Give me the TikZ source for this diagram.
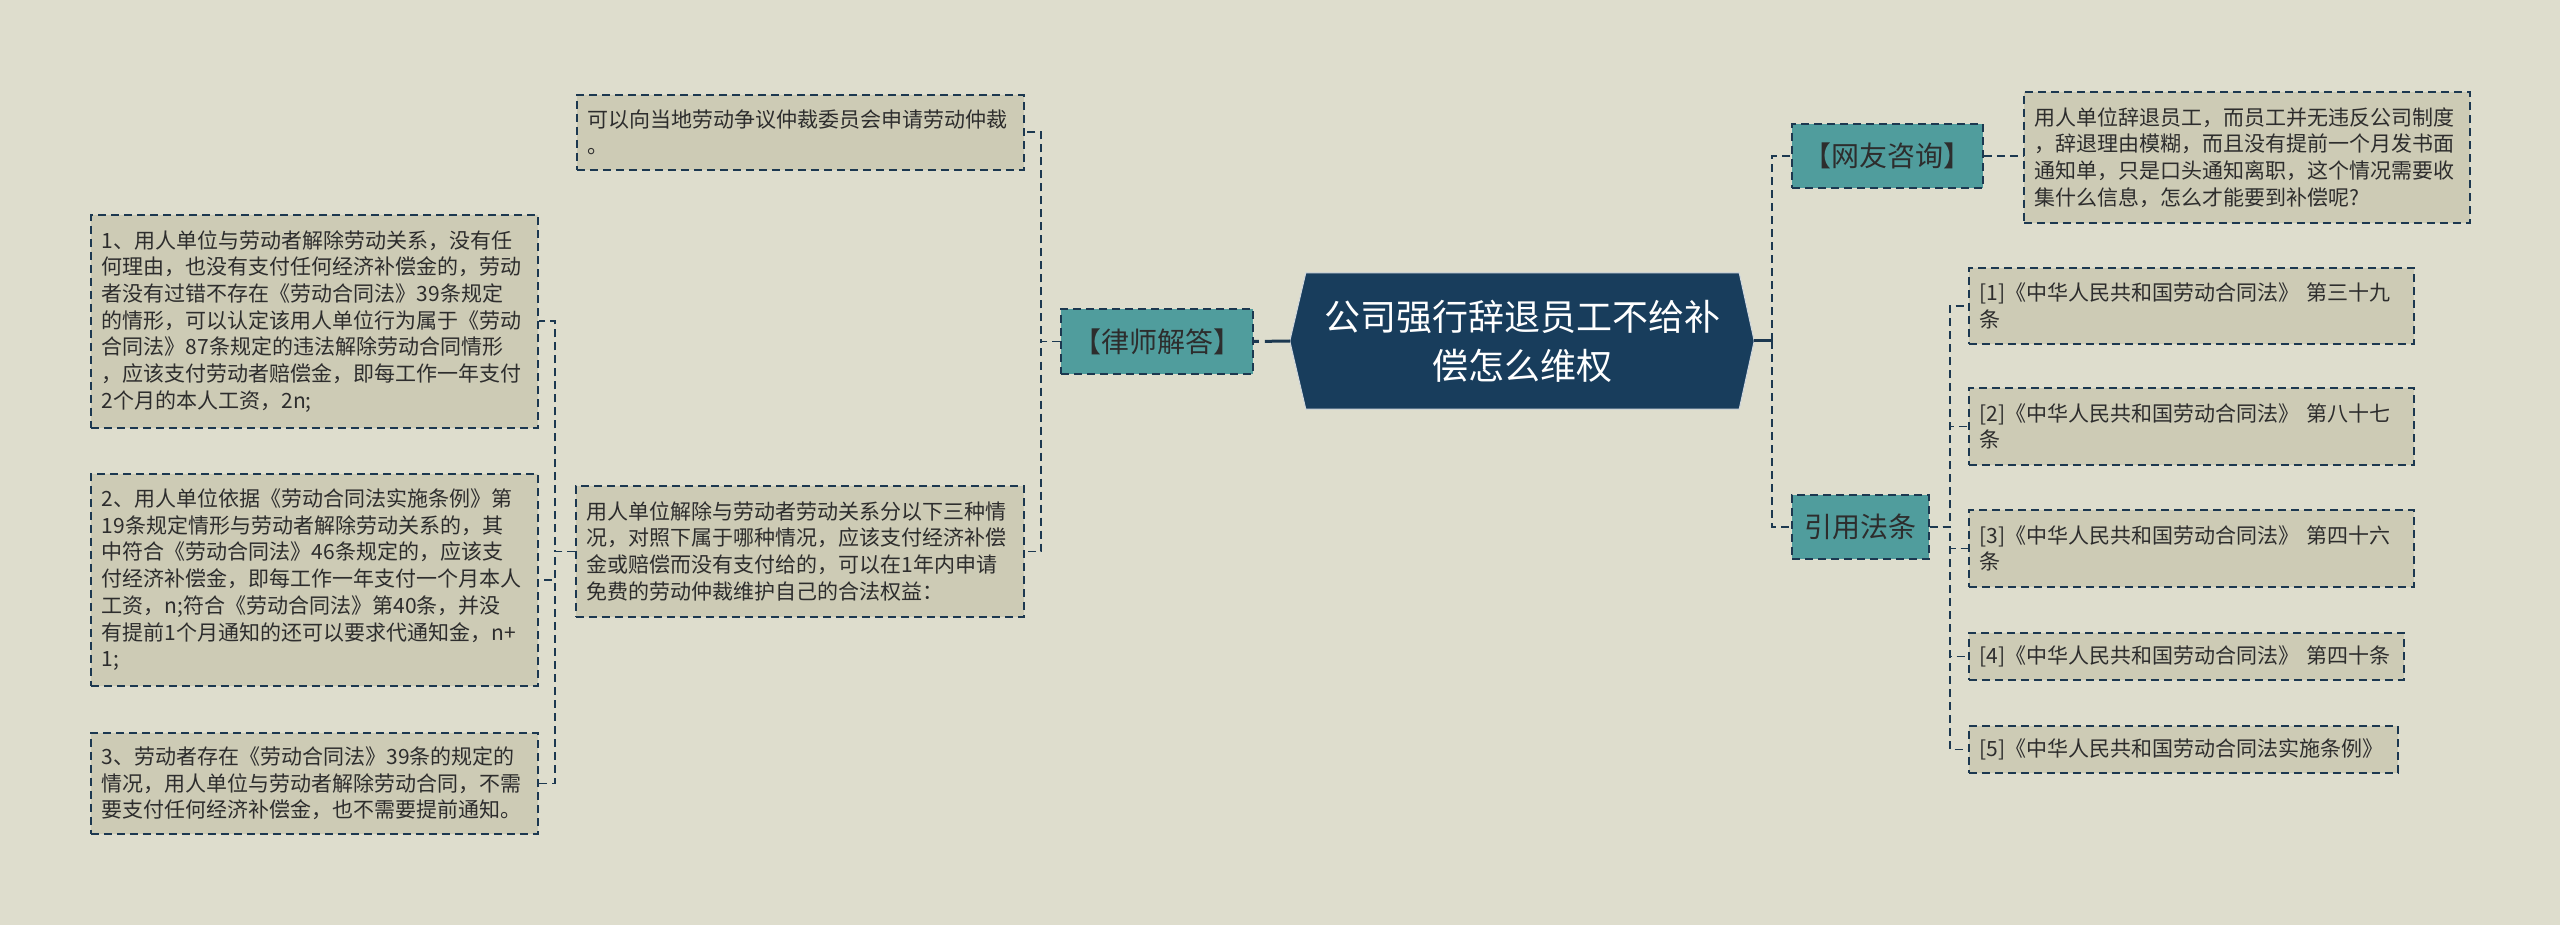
\documentclass[tikz,border=0pt]{standalone}
\usepackage{fontspec}
\setmainfont{Noto Sans CJK SC}
\usetikzlibrary{calc,backgrounds}
\definecolor{bgc}{RGB}{222,221,205}
\definecolor{detailfill}{RGB}{205,203,181}
\definecolor{tealc}{RGB}{80,157,157}
\definecolor{navyc}{RGB}{24,61,92}
\definecolor{linec}{RGB}{28,56,80}
\definecolor{txtc}{RGB}{45,45,45}
\begin{document}
\begin{tikzpicture}[x=1pt,y=-1pt,
  dashline/.style={draw=linec, line width=1.6pt, dash pattern=on 8pt off 5pt},
  detail/.style={dashline, fill=detailfill, text=txtc, align=left, anchor=north west,
    inner xsep=11pt, inner ysep=6pt, font=\fontsize{21}{26.7}\selectfont},
  topic/.style={dashline, fill=tealc, text=txtc, inner sep=0pt,
    font=\fontsize{28}{32}\selectfont},
  conn/.style={dashline},
  rootconn/.style={draw=linec, line width=3pt},
  rootnode/.style={text=white, align=center, inner sep=0pt,
    minimum width=433pt, minimum height=136pt, font=\fontsize{36}{49}\selectfont}
]
\useasboundingbox (0,0) rectangle (2560,925);

% root
\node[rootnode] (root) at (1522.5,341) {公司强行辞退员工不给补\\偿怎么维权};
\coordinate (rootR) at ([xshift=15pt]root.east);
\coordinate (rootL) at ([xshift=-16pt]root.west);
\begin{scope}[on background layer]
  \fill[bgc] (0,0) rectangle (2560,925);
  \filldraw[fill=navyc, draw=white!80!navyc, line width=1pt]
    (rootL) -- (root.north west) -- (root.north east) -- (rootR)
    -- (root.south east) -- (root.south west) -- cycle;
\end{scope}

% main topics
\node[topic, minimum width=192pt, minimum height=65pt] (law) at (1157,341.5) {【律师解答】};
\node[topic, minimum width=191pt, minimum height=64pt] (wy) at (1887.5,156) {【网友咨询】};
\node[topic, minimum width=137pt, minimum height=64pt] (yy) at (1860.5,527) {引用法条};

% left details
\node[detail, text width=425pt, minimum height=75pt] (A1) at (576,94)
  {可以向当地劳动争议仲裁委员会申请劳动仲裁\\。};
\node[detail, text width=426pt, minimum height=131pt] (A2) at (575,485)
  {用人单位解除与劳动者劳动关系分以下三种情\\况，对照下属于哪种情况，应该支付经济补偿\\金或赔偿而没有支付给的，可以在1年内申请\\免费的劳动仲裁维护自己的合法权益：};
\node[detail, text width=425pt, minimum height=213pt] (B1) at (90,214)
  {1、用人单位与劳动者解除劳动关系，没有任\\何理由，也没有支付任何经济补偿金的，劳动\\者没有过错不存在《劳动合同法》39条规定\\的情形，可以认定该用人单位行为属于《劳动\\合同法》87条规定的违法解除劳动合同情形\\，应该支付劳动者赔偿金，即每工作一年支付\\2个月的本人工资，2n;};
\node[detail, text width=425pt, minimum height=212pt] (B2) at (90,473)
  {2、用人单位依据《劳动合同法实施条例》第\\19条规定情形与劳动者解除劳动关系的，其\\中符合《劳动合同法》46条规定的，应该支\\付经济补偿金，即每工作一年支付一个月本人\\工资，n;符合《劳动合同法》第40条，并没\\有提前1个月通知的还可以要求代通知金，n+\\1;};
\node[detail, text width=425pt, minimum height=101pt] (B3) at (90,732)
  {3、劳动者存在《劳动合同法》39条的规定的\\情况，用人单位与劳动者解除劳动合同，不需\\要支付任何经济补偿金，也不需要提前通知。};

% right details
\node[detail, text width=424pt, minimum height=131pt] (C) at (2023,91)
  {用人单位辞退员工，而员工并无违反公司制度\\，辞退理由模糊，而且没有提前一个月发书面\\通知单，只是口头通知离职，这个情况需要收\\集什么信息，怎么才能要到补偿呢?};
\node[detail, text width=423pt, minimum height=76pt] (L1) at (1968,267)
  {[1]《中华人民共和国劳动合同法》~第三十九\\条};
\node[detail, text width=423pt, minimum height=77pt] (L2) at (1968,387)
  {[2]《中华人民共和国劳动合同法》~第八十七\\条};
\node[detail, text width=423pt, minimum height=77pt] (L3) at (1968,509)
  {[3]《中华人民共和国劳动合同法》~第四十六\\条};
\node[detail, text width=413pt, minimum height=47pt] (L4) at (1968,632)
  {[4]《中华人民共和国劳动合同法》~第四十条};
\node[detail, text width=407pt, minimum height=47pt] (L5) at (1968,725)
  {[5]《中华人民共和国劳动合同法实施条例》};

% connectors
\draw[draw=linec, line width=3pt, dash pattern=on 25pt off 6pt] (rootL) -- (law.east);
\draw[rootconn] (rootR) -- ++(18,0);
\draw[conn] (rootR) ++(18,0) |- (wy.west);
\draw[conn] (rootR) ++(18,0) |- (yy.west);
\draw[conn] (wy.east) -- (wy.east -| C.west);

\draw[conn] (law.west) -- ++(-19,0) |- (A1.east);
\draw[conn] (law.west) -- ++(-19,0) |- (A2.east);

\draw[conn] (A2.west) -- ++(-20,0) |- (B1.east);
\draw[conn] (A2.west) -- ++(-20,0) |- (B2.east);
\draw[conn] (A2.west) -- ++(-20,0) |- (B3.east);

\draw[conn] (yy.east) -- ++(20,0) |- (L1.west);
\draw[conn] (yy.east) -- ++(20,0) |- (L2.west);
\draw[conn] (yy.east) -- ++(20,0) |- (L3.west);
\draw[conn] (yy.east) -- ++(20,0) |- (L4.west);
\draw[conn] (yy.east) -- ++(20,0) |- (L5.west);
\end{tikzpicture}
\end{document}
